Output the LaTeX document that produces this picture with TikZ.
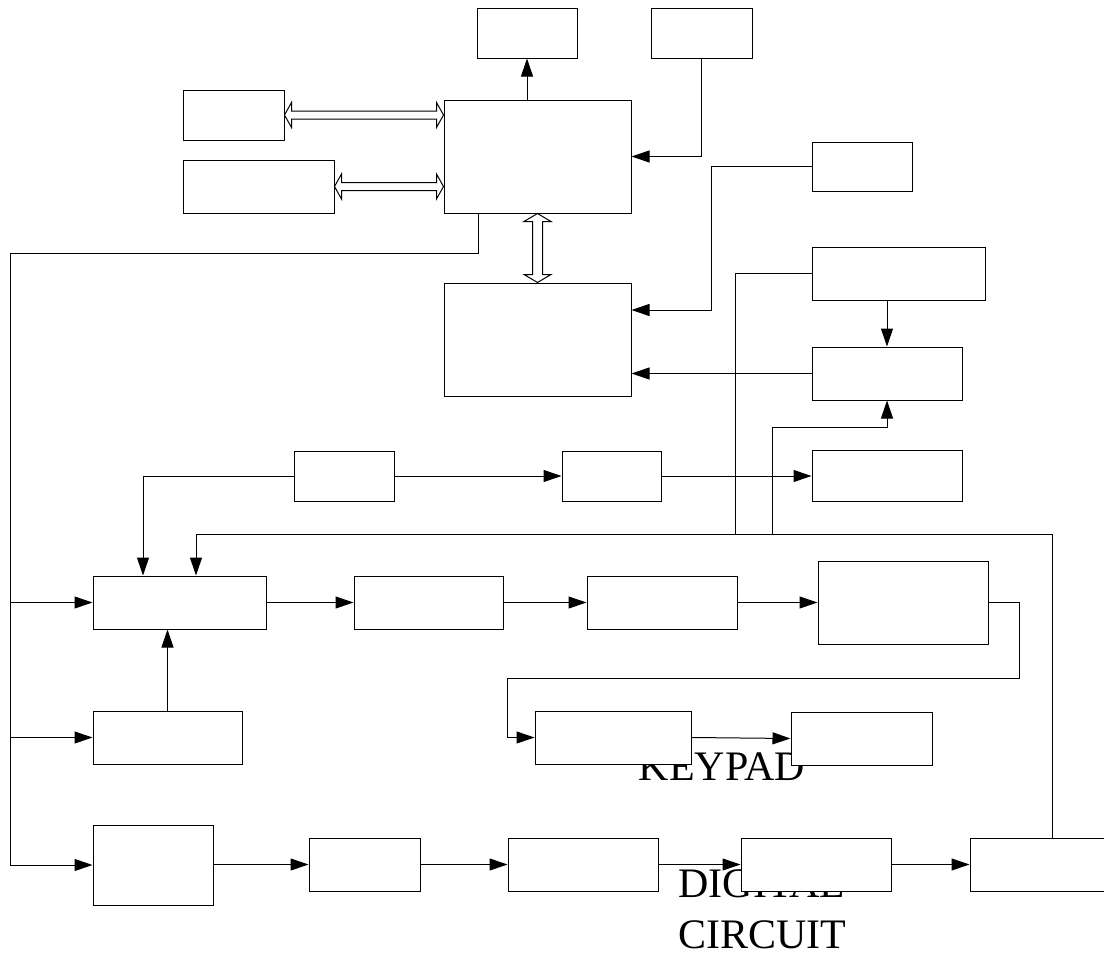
\documentclass[tikz,border=0pt]{standalone}
\usepackage{fontspec}
\setmainfont{Liberation Serif}
\usetikzlibrary{arrows.meta,calc}
\tikzset{
  blk/.style={draw=black, fill=white, line width=1pt, inner sep=0pt},
  arr/.style={line width=1pt, -{Triangle[length=18pt,width=12pt]}},
  ln/.style={line width=1pt},
  bigtxt/.style={font=\fontsize{42}{51}\selectfont, inner sep=0pt, align=center},
  hollow/.style={draw=black, fill=white, line width=1pt}
}
\begin{document}
\begin{tikzpicture}[x=1pt,y=-1pt]
\useasboundingbox (0,0) rectangle (1104,953);
% texts (drawn first, partly covered by the boxes)
\node[bigtxt, anchor=base] (kp) at (722,780) {KEYPAD};
\node[bigtxt, anchor=base] (dg) at (762,897) {DIGITAL};
\node[bigtxt, anchor=base] (cc) at (762,948) {CIRCUIT};
% boxes
\node[blk, minimum width=100pt, minimum height=50pt] (T1) at (527,33) {};
\node[blk, minimum width=101pt, minimum height=50pt] (T2) at (701.5,33) {};
\node[blk, minimum width=101pt, minimum height=50pt] (L1) at (233.5,115) {};
\node[blk, minimum width=151pt, minimum height=53pt] (L2) at (258.5,186.5) {};
\node[blk, minimum width=187pt, minimum height=113pt] (CPU) at (537.5,156.5) {};
\node[blk, minimum width=187pt, minimum height=113pt] (MEM) at (537.5,339.5) {};
\node[blk, minimum width=100pt, minimum height=49pt] (R1) at (862,166.5) {};
\node[blk, minimum width=173pt, minimum height=53pt] (R2) at (898.5,273.5) {};
\node[blk, minimum width=150pt, minimum height=53pt] (R3) at (887,373.5) {};
\node[blk, minimum width=100pt, minimum height=50pt] (A1) at (344,476) {};
\node[blk, minimum width=99pt, minimum height=50pt] (A2) at (611.5,476) {};
\node[blk, minimum width=150pt, minimum height=51pt] (A3) at (887,476) {};
\node[blk, minimum width=173pt, minimum height=53pt] (B1) at (179.5,602.5) {};
\node[blk, minimum width=149pt, minimum height=53pt] (B2) at (428.5,602.5) {};
\node[blk, minimum width=150pt, minimum height=53pt] (B3) at (662,602.5) {};
\node[blk, minimum width=170pt, minimum height=83pt] (B4) at (903,602.5) {};
\node[blk, minimum width=149pt, minimum height=53pt] (C1) at (167.5,737.5) {};
\node[blk, minimum width=156pt, minimum height=53pt] (K1) at (613,737.5) {};
\node[blk, minimum width=141pt, minimum height=53pt] (K2) at (861.5,738.5) {};
\node[blk, minimum width=120pt, minimum height=80pt] (D1) at (153,865) {};
\node[blk, minimum width=111pt, minimum height=53pt] (D2) at (364.5,864.5) {};
\node[blk, minimum width=150pt, minimum height=53pt] (D3) at (583,864.5) {};
\node[blk, minimum width=150pt, minimum height=53pt] (D4) at (816,864.5) {};
\node[blk, minimum width=164pt, minimum height=53pt] (D5) at (1052,864.5) {};
% helper coordinates
\coordinate (cpuleg) at (478,0);
\coordinate (trunk) at (10,253);
\coordinate (bt) at (196,534);
\coordinate (m1) at (0,310);
\coordinate (a1x) at (143,0);
% top area
\draw[arr] (T1.south |- CPU.north) -- (T1.south);
\draw[arr] (T2.south) |- (CPU.east);
% hollow double arrows
\draw[hollow] (L1.east) -- ++(7,-12.5) -- ++(0,8.5) -- ($(L1.east -| CPU.west)+(-7,-4)$) -- ++(0,-8.5) -- (L1.east -| CPU.west) -- ++(-7,12.5) -- ++(0,-8.5) -- ($(L1.east)+(7,4)$) -- ++(0,8.5) -- cycle;
\draw[hollow] (L2.east) -- ++(7,-12.5) -- ++(0,8.5) -- ($(L2.east -| CPU.west)+(-7,-4)$) -- ++(0,-8.5) -- (L2.east -| CPU.west) -- ++(-7,12.5) -- ++(0,-8.5) -- ($(L2.east)+(7,4)$) -- ++(0,8.5) -- cycle;
\draw[hollow] (CPU.south) -- ++(-13.5,8) -- ++(8.5,0) -- ($(MEM.north)+(-5,-8)$) -- ++(-8.5,0) -- (MEM.north) -- ++(13.5,-8) -- ++(-8.5,0) -- ($(CPU.south)+(5,8)$) -- ++(8.5,0) -- cycle;
% right-side connections to MEM
\draw[arr] (R1.west) -| (711,310) -- (MEM.east |- m1);
\draw[arr] (R3.west) -- (R3.west -| MEM.east);
\draw[arr] (R2.south -| R3.north) -- (R3.north);
\draw[ln] (R2.west) -| (735,534);
\draw[arr] (772,534) |- ($(R3.south)+(0,27)$) -- (R3.south);
% row A
\draw[arr] (A1.east) -- (A2.west);
\draw[arr] (A2.east) -- (A2.east -| A3.west);
\draw[arr] (A1.west) -| (a1x |- B1.north);
% feedback bus from D5
\draw[arr] (D5.north) |- (bt) -- (bt |- B1.north);
% left trunk from CPU
\draw[arr] (cpuleg |- CPU.south) |- (trunk) |- (D1.west);
\draw[arr] (B1.west -| trunk) -- (B1.west);
\draw[arr] (C1.west -| trunk) -- (C1.west);
% row B
\draw[arr] (B1.east) -- (B2.west);
\draw[arr] (B2.east) -- (B3.west);
\draw[arr] (B3.east) -- (B4.west);
\draw[arr] (B4.east) -| (1019,678) -| ($(K1.west)+(-27,0)$) -- (K1.west);
\draw[arr] (C1.north) -- (C1.north |- B1.south);
% keypad row
\draw[arr] (K1.east) -- (K2.west);
% row D
\draw[arr] (D1.east |- D2.west) -- (D2.west);
\draw[arr] (D2.east) -- (D3.west);
\draw[arr] (D3.east) -- (D4.west);
\draw[arr] (D4.east) -- (D5.west);
\end{tikzpicture}
\end{document}
